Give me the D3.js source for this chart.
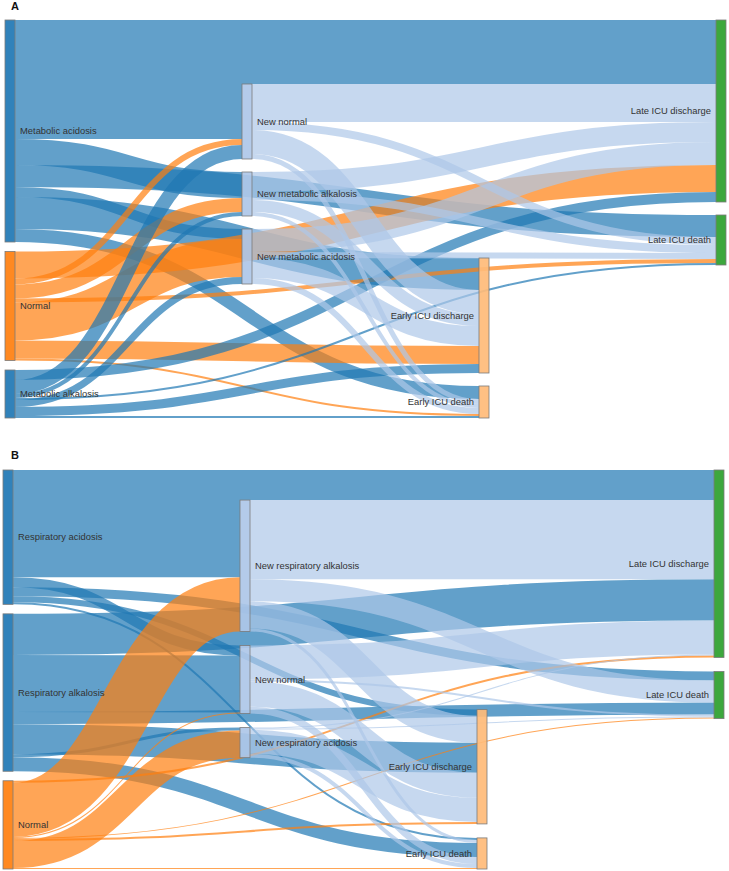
<!DOCTYPE html>
<html><head><meta charset="utf-8">
<script src="https://cdn.jsdelivr.net/npm/d3@7"></script>
<style>body{margin:0;background:#fff}svg{display:block}</style>
</head><body>
<svg id="chart" width="729" height="871"></svg>
<script>
// ---------- DATA ----------
const panelLabels = ["A", "B"];

const nodesA = ["Metabolic acidosis", "Normal", "Metabolic alkalosis",
  "New normal", "New metabolic alkalosis", "New metabolic acidosis",
  "Early ICU discharge", "Early ICU death", "Late ICU discharge", "Late ICU death"];
const stagesA = [0, 0, 0, 1, 1, 1, 2, 2, 3, 3];
const linksA = [
  ["Metabolic acidosis", "Late ICU discharge", 64],
  ["Metabolic acidosis", "New normal", 55],
  ["Metabolic acidosis", "New metabolic alkalosis", 26],
  ["Metabolic acidosis", "Late ICU death", 22],
  ["Metabolic acidosis", "New metabolic acidosis", 10],
  ["Metabolic acidosis", "Early ICU discharge", 32],
  ["Metabolic acidosis", "Early ICU death", 13],
  ["Normal", "New normal", 6],
  ["Normal", "New metabolic alkalosis", 14],
  ["Normal", "New metabolic acidosis", 38],
  ["Normal", "Late ICU discharge", 27],
  ["Normal", "Late ICU death", 4],
  ["Normal", "Early ICU discharge", 18],
  ["Normal", "Early ICU death", 2],
  ["Metabolic alkalosis", "New normal", 14],
  ["Metabolic alkalosis", "New metabolic alkalosis", 4],
  ["Metabolic alkalosis", "New metabolic acidosis", 7],
  ["Metabolic alkalosis", "Late ICU discharge", 10],
  ["Metabolic alkalosis", "Late ICU death", 2],
  ["Metabolic alkalosis", "Early ICU discharge", 9],
  ["Metabolic alkalosis", "Early ICU death", 2],
  ["New normal", "Late ICU discharge", 38],
  ["New normal", "Late ICU death", 8],
  ["New normal", "Early ICU discharge", 24],
  ["New normal", "Early ICU death", 5],
  ["New metabolic alkalosis", "Late ICU discharge", 20],
  ["New metabolic alkalosis", "Late ICU death", 8],
  ["New metabolic alkalosis", "Early ICU discharge", 12],
  ["New metabolic alkalosis", "Early ICU death", 4],
  ["New metabolic acidosis", "Late ICU discharge", 23],
  ["New metabolic acidosis", "Late ICU death", 6],
  ["New metabolic acidosis", "Early ICU discharge", 20],
  ["New metabolic acidosis", "Early ICU death", 6]
];

const nodesB = ["Respiratory acidosis", "Respiratory alkalosis", "Normal",
  "New respiratory alkalosis", "New normal", "New respiratory acidosis",
  "Early ICU discharge", "Early ICU death", "Late ICU discharge", "Late ICU death"];
const stagesB = [0, 0, 0, 1, 1, 1, 2, 2, 3, 3];
const linksB = [
  ["Respiratory acidosis", "Late ICU discharge", 30],
  ["Respiratory acidosis", "New respiratory alkalosis", 77],
  ["Respiratory acidosis", "New normal", 10],
  ["Respiratory acidosis", "Late ICU death", 9],
  ["Respiratory acidosis", "Early ICU discharge", 6],
  ["Respiratory acidosis", "Early ICU death", 2],
  ["Respiratory alkalosis", "Late ICU discharge", 41],
  ["Respiratory alkalosis", "New normal", 57],
  ["Respiratory alkalosis", "New respiratory acidosis", 3],
  ["Respiratory alkalosis", "Late ICU death", 12],
  ["Respiratory alkalosis", "Early ICU discharge", 30],
  ["Respiratory alkalosis", "Early ICU death", 14],
  ["Normal", "New respiratory alkalosis", 54],
  ["Normal", "New normal", 1],
  ["Normal", "New respiratory acidosis", 27],
  ["Normal", "Late ICU discharge", 2],
  ["Normal", "Late ICU death", 1],
  ["Normal", "Early ICU discharge", 2],
  ["Normal", "Early ICU death", 1],
  ["New respiratory alkalosis", "Late ICU discharge", 79],
  ["New respiratory alkalosis", "Late ICU death", 22],
  ["New respiratory alkalosis", "Early ICU discharge", 27],
  ["New respiratory alkalosis", "Early ICU death", 3],
  ["New normal", "Late ICU discharge", 34],
  ["New normal", "Late ICU death", 2],
  ["New normal", "Early ICU discharge", 25],
  ["New normal", "Early ICU death", 7],
  ["New respiratory acidosis", "Late ICU discharge", 1],
  ["New respiratory acidosis", "Late ICU death", 1],
  ["New respiratory acidosis", "Early ICU discharge", 24],
  ["New respiratory acidosis", "Early ICU death", 4]
];

// ---------- STYLE ----------
const C = { blue: "#1f77b4", orange: "#ff7f0e", light: "#aec7e8", early: "#ffbb78", late: "#2ca02c" };
function nodeColor(n) {
  if (n.layer === 0) return n.name === "Normal" ? C.orange : C.blue;
  if (n.layer === 1) return C.light;
  if (n.layer === 2) return C.early;
  return C.late;
}

// ---------- SANKEY LAYOUT ----------
// column 0 is justified to the full height; other columns are stacked blocks
// aligned "bottom", or shifted so that their heaviest incoming link runs straight.
function sankey(names, stages, rows, ext) {
  const nodes = names.map((name, i) => ({ name, index: i, layer: stages[i], sourceLinks: [], targetLinks: [] }));
  const byName = new Map(nodes.map(n => [n.name, n]));
  const links = rows.map(([s, t, v], i) => {
    const l = { source: byName.get(s), target: byName.get(t), value: v, index: i };
    l.source.sourceLinks.push(l); l.target.targetLinks.push(l);
    return l;
  });
  nodes.forEach(n => n.value = Math.max(d3.sum(n.sourceLinks, l => l.value), d3.sum(n.targetLinks, l => l.value)));
  const nCols = d3.max(nodes, n => n.layer) + 1;
  const x = d3.scaleLinear().domain([0, nCols - 1]).range([ext.x0, ext.x1 - ext.nodeWidth]);
  nodes.forEach(n => { n.x0 = x(n.layer); n.x1 = n.x0 + ext.nodeWidth; });
  const columns = d3.range(nCols).map(c => nodes.filter(n => n.layer === c));
  const Y0 = ext.y0, Y1 = ext.y1;
  const first = columns[0];
  const ky = (Y1 - Y0 - (first.length - 1) * ext.nodePadding) / d3.sum(first, n => n.value);
  const h = d3.scaleLinear().domain([0, 1]).range([0, ky]);
  links.forEach(l => l.width = h(l.value));

  function stack(col, top, pad) {
    let y = top;
    for (const n of col) { n.y0 = y; n.y1 = y + h(n.value); y = n.y1 + pad; }
  }
  const colHeight = (col, pad) => d3.sum(col, n => h(n.value)) + (col.length - 1) * pad;
  const asc = (a, b) => a.y0 - b.y0;
  const ascSrc = (a, b) => asc(a.source, b.source) || a.index - b.index;
  const ascTgt = (a, b) => asc(a.target, b.target) || a.index - b.index;
  const sortLinks = () => nodes.forEach(n => { n.sourceLinks.sort(ascTgt); n.targetLinks.sort(ascSrc); });

  // provisional: centred columns
  columns.forEach((col, c) => {
    const pad = c === 0 ? ext.nodePadding : ext.innerPadding;
    stack(col, c === 0 ? Y0 : (Y0 + Y1 - colHeight(col, pad)) / 2, pad);
  });
  for (let pass = 0; pass < 3; ++pass) {
    sortLinks();
    columns.forEach((col, c) => {
      if (c === 0) return;
      const pad = ext.innerPadding, H = colHeight(col, pad);
      let top;
      if (ext.align[c] === "bottom") top = Y1 - H;
      else if (ext.align[c] === "top") top = Y0;
      else {
        const inc = links.filter(l => l.target.layer === c && l.source.layer < c);
        const l = inc.reduce((a, b) => (b.value > a.value ? b : a));
        let ys = l.source.y0;
        for (const o of l.source.sourceLinks) { if (o === l) break; ys += o.width; }
        let off = 0;
        for (const o of l.target.targetLinks) { if (o === l) break; off += o.width; }
        let nodeOff = 0;
        for (const n of col) { if (n === l.target) break; nodeOff += h(n.value) + pad; }
        top = ys - off - nodeOff;
      }
      top = Math.max(Y0, Math.min(Y1 - H, top));
      stack(col, top, pad);
    });
  }
  sortLinks();
  for (const n of nodes) {
    let a = n.y0, b = n.y0;
    for (const l of n.sourceLinks) { l.y0 = a + l.width / 2; a += l.width; }
    for (const l of n.targetLinks) { l.y1 = b + l.width / 2; b += l.width; }
  }
  return { nodes, links };
}

// ---------- DRAW ----------
const svg = d3.select("#chart");
const linkPath = d3.linkHorizontal().source(d => [d.source.x1, d.y0]).target(d => [d.target.x0, d.y1]);

function drawPanel(names, stages, rows, ext, label, labelPos) {
  const g = svg.append("g");
  const { nodes, links } = sankey(names, stages, rows, ext);
  const ordered = links.slice().sort((a, b) => a.source.layer - b.source.layer || a.index - b.index);
  g.append("g").attr("fill", "none").selectAll("path").data(ordered).join("path")
    .attr("d", linkPath)
    .attr("stroke", d => d.source.layer === 0 ? nodeColor(d.source) : C.light)
    .attr("stroke-opacity", 0.7)
    .attr("stroke-width", d => Math.max(1, d.width));
  g.append("g").selectAll("rect").data(nodes).join("rect")
    .attr("x", d => d.x0).attr("y", d => d.y0)
    .attr("width", d => d.x1 - d.x0).attr("height", d => d.y1 - d.y0)
    .attr("fill", d => nodeColor(d)).attr("fill-opacity", 0.92)
    .attr("stroke", "#7a7a7a").attr("stroke-width", 0.8);
  g.append("g").attr("font-family", "Liberation Sans, Arial, sans-serif").attr("font-size", 9.4).attr("fill", "#333")
    .selectAll("text").data(nodes).join("text")
    .attr("x", d => d.layer < 2 ? d.x1 + 5 : d.x0 - 5)
    .attr("y", d => (d.y0 + d.y1) / 2)
    .attr("dy", "0.35em")
    .attr("text-anchor", d => d.layer < 2 ? "start" : "end")
    .text(d => d.name);
  svg.append("text").attr("x", labelPos[0]).attr("y", labelPos[1])
    .attr("font-family", "Liberation Sans, Arial, sans-serif").attr("font-weight", "bold").attr("font-size", 11)
    .attr("fill", "#111").text(label);
}

const align = ["justify", "heaviest", "bottom", "heaviest"];
drawPanel(nodesA, stagesA, linksA, { x0: 5, x1: 726, y0: 20, y1: 418, nodeWidth: 10, nodePadding: 9.5, innerPadding: 13, align }, panelLabels[0], [11, 10]);
drawPanel(nodesB, stagesB, linksB, { x0: 3, x1: 724, y0: 470, y1: 869, nodeWidth: 10, nodePadding: 9.5, innerPadding: 14, align }, panelLabels[1], [11, 459]);
</script>
</body></html>
